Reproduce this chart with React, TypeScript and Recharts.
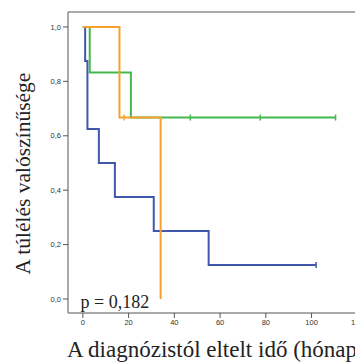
import { Label, Line, LineChart, ReferenceLine, XAxis, YAxis } from "recharts";

// Kaplan-Meier steps (months, survival)
const blueTimes = [0, 1, 2, 7, 14, 31, 55, 102];
const blueSurv = [1, 0.875, 0.625, 0.5, 0.375, 0.25, 0.125, 0.125];
const blueCensored = [102];

const greenTimes = [0, 3, 21, 47, 77.6, 110.5];
const greenSurv = [1, 0.833, 0.667, 0.667, 0.667, 0.667];
const greenCensored = [47, 77.6, 110.5];

const orangeTimes = [0, 16, 18, 34];
const orangeSurv = [1, 0.667, 0.667, 0];
const orangeCensored = [18];

const xTicks = [0, 20, 40, 60, 80, 100, 120];
const yTicks = [0, 0.2, 0.4, 0.6, 0.8, 1.0];

const X_DOMAIN: [number, number] = [-6.5, 130.8];
const Y_DOMAIN: [number, number] = [-0.0515, 1.055];

const build = (times: number[], surv: number[], cens: number[]) =>
  times.map((t, i) => ({ t, s: surv[i], c: cens.includes(t) }));

const blue = build(blueTimes, blueSurv, blueCensored);
const green = build(greenTimes, greenSurv, greenCensored);
const orange = build(orangeTimes, orangeSurv, orangeCensored);

const censorDot = (color: string) => (props: any) => {
  const { cx, cy, payload, index } = props;
  if (!payload?.c) return <g key={`d-${index}`} />;
  return (
    <path
      key={`d-${index}`}
      d={`M${cx},${cy - 3}V${cy + 3}`}
      stroke={color}
      strokeWidth={1.5}
    />
  );
};

const serif = "'Liberation Serif', 'Times New Roman', serif";
const sans = "'Liberation Sans', Arial, sans-serif";
const axisColor = "#8c8c8c";
const tickStyle = { fontSize: 7.5, fill: "#333", fontFamily: sans };

export default function App() {
  return (
    <div
      style={{
        position: "absolute",
        left: 0,
        top: 0,
        width: 355,
        height: 363,
        overflow: "hidden",
        background: "#fff",
      }}
    >
      <LineChart
        width={400}
        height={363}
        margin={{ top: 12, right: 18, bottom: 0, left: 0 }}
      >
        <XAxis
          dataKey="t"
          type="number"
          domain={X_DOMAIN}
          ticks={xTicks}
          allowDataOverflow
          height={50}
          tick={tickStyle}
          tickSize={5}
          tickMargin={2}
          axisLine={{ stroke: axisColor, strokeWidth: 1.5 }}
          tickLine={{ stroke: "#555" }}
        >
          <Label
            content={() => (
              <text
                x={67}
                y={357}
                fontFamily={serif}
                fontSize={23}
                fill="#222"
              >
                A diagnózistól eltelt idő (hónapok)
              </text>
            )}
          />
        </XAxis>
        <YAxis
          type="number"
          domain={Y_DOMAIN}
          ticks={yTicks}
          allowDataOverflow
          width={68}
          tick={tickStyle}
          tickSize={5}
          tickMargin={2}
          tickFormatter={(v: number) => v.toFixed(1).replace(".", ",")}
          axisLine={{ stroke: axisColor, strokeWidth: 1.5 }}
          tickLine={{ stroke: "#555" }}
        >
          <Label
            content={() => (
              <g>
                <text
                  x={30}
                  y={173.5}
                  transform="rotate(-90, 30, 173.5)"
                  textAnchor="middle"
                  fontFamily={serif}
                  fontSize={21.5}
                  fill="#222"
                >
                  A túlélés valószínűsége
                </text>
                <text
                  x={80.5}
                  y={308}
                  fontFamily={serif}
                  fontSize={18}
                  fill="#222"
                >
                  p = 0,182
                </text>
              </g>
            )}
          />
        </YAxis>
        <ReferenceLine
          y={Y_DOMAIN[1]}
          stroke={axisColor}
          strokeWidth={1.5}
          ifOverflow="visible"
        />
        <Line
          data={blue}
          dataKey="s"
          type="stepAfter"
          stroke="#3f58ad"
          strokeWidth={2}
          dot={censorDot("#3f58ad")}
          activeDot={false}
          isAnimationActive={false}
        />
        <Line
          data={green}
          dataKey="s"
          type="stepAfter"
          stroke="#44b84c"
          strokeWidth={2}
          dot={censorDot("#44b84c")}
          activeDot={false}
          isAnimationActive={false}
        />
        <Line
          data={orange}
          dataKey="s"
          type="stepAfter"
          stroke="#f7a02c"
          strokeWidth={2}
          dot={censorDot("#f7a02c")}
          activeDot={false}
          isAnimationActive={false}
        />
      </LineChart>
    </div>
  );
}
